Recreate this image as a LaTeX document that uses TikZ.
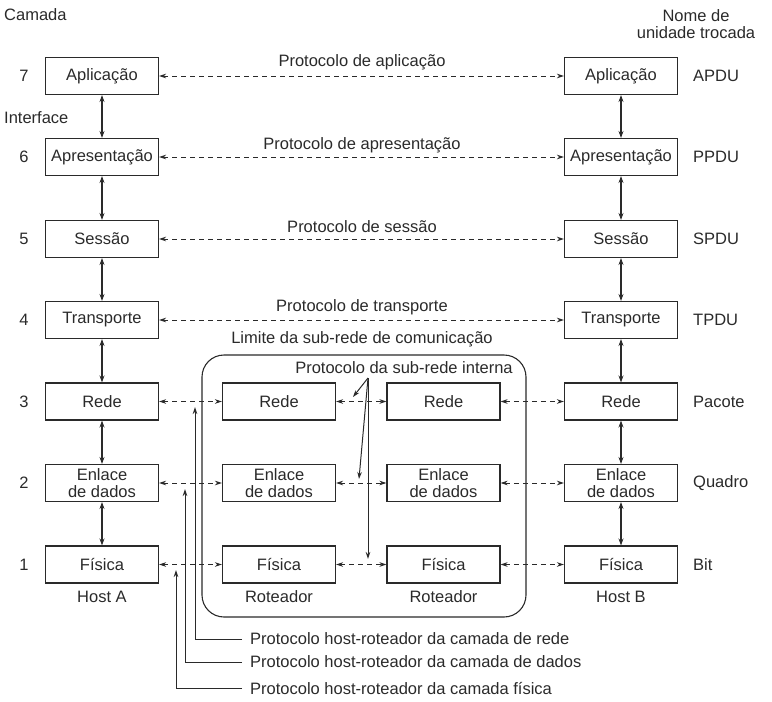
\documentclass[tikz,border=0pt]{standalone}
\usepackage{fontspec}
\setmainfont{Liberation Sans}
\usetikzlibrary{arrows.meta}
\definecolor{ink}{HTML}{2A2A2A}
\begin{document}
\begin{tikzpicture}[x=1pt,y=-1pt,
  every node/.style={font=\fontsize{16.5}{17}\selectfont, text=ink},
  layerbox/.style={draw=ink, line width=1.1pt, minimum width=113pt, minimum height=37pt, inner sep=0pt, align=center},
  lbl/.style={inner sep=0pt},
  vlink/.style={draw=ink, line width=1.1pt, {Stealth[length=7pt,width=5pt]}-{Stealth[length=7pt,width=5pt]}},
  proto/.style={draw=ink, line width=1pt, dash pattern=on 5pt off 4pt, {Stealth[length=7pt,width=4.5pt]}-{Stealth[length=7pt,width=4.5pt]}},
  ptr/.style={draw=ink, line width=1pt, -{Stealth[length=7pt,width=4.5pt]}}
]
\path[use as bounding box] (0,0) rectangle (772,702);

% subnet boundary
\draw[ink, line width=1.1pt, rounded corners=22pt] (202,355) rectangle (526,617);

% Host A
\node[layerbox] (a7) at (102,76) {Aplicação};
\node[layerbox] (a6) at (102,157) {Apresentação};
\node[layerbox] (a5) at (102,239) {Sessão};
\node[layerbox] (a4) at (102,320) {Transporte};
\node[layerbox] (a3) at (102,401.5) {Rede};
\node[layerbox] (a2) at (102,483) {Enlace\\de dados};
\node[layerbox] (a1) at (102,564.5) {Física};
% Host B
\node[layerbox] (b7) at (621,76) {Aplicação};
\node[layerbox] (b6) at (621,157) {Apresentação};
\node[layerbox] (b5) at (621,239) {Sessão};
\node[layerbox] (b4) at (621,320) {Transporte};
\node[layerbox] (b3) at (621,401.5) {Rede};
\node[layerbox] (b2) at (621,483) {Enlace\\de dados};
\node[layerbox] (b1) at (621,564.5) {Física};
% Routers
\node[layerbox] (r3) at (279,401.5) {Rede};
\node[layerbox] (r2) at (279,483) {Enlace\\de dados};
\node[layerbox] (r1) at (279,564.5) {Física};
\node[layerbox] (s3) at (443.5,401.5) {Rede};
\node[layerbox] (s2) at (443.5,483) {Enlace\\de dados};
\node[layerbox] (s1) at (443.5,564.5) {Física};

% interfaces
\foreach \u/\l in {7/6,6/5,5/4,4/3,3/2,2/1}{
  \draw[vlink] (a\u.south) -- (a\l.north);
  \draw[vlink] (b\u.south) -- (b\l.north);
}

% peer protocols
\foreach \n in {7,6,5,4}{ \draw[proto] (a\n.east) -- (b\n.west); }
\foreach \n in {3,2,1}{
  \draw[proto] (a\n.east) -- (r\n.west);
  \draw[proto] (r\n.east) -- (s\n.west);
  \draw[proto] (s\n.east) -- (b\n.west);
}
\node[lbl] (p7) at (362,62) {Protocolo de aplicação};
\node[lbl] (p6) at (362,145) {Protocolo de apresentação};
\node[lbl] (p5) at (362,227) {Protocolo de sessão};
\node[lbl] (p4) at (362,307) {Protocolo de transporte};
\node[lbl] (lim) at (362,339) {Limite da sub-rede de comunicação};

% internal subnet protocol
\node[lbl] (sub) at (404,368) {Protocolo da sub-rede interna};
\coordinate (src) at (368,378);
\coordinate (t1) at (353,397);
\coordinate (t2) at (359,479);
\coordinate (t3) at (368,559);
\draw[ptr] (src) -- (t1);
\draw[ptr] (src) -- (t2);
\draw[ptr] (src) -- (t3);

% host-router protocols
\node[lbl, anchor=west] (h3) at (250,639) {Protocolo host-roteador da camada de rede};
\node[lbl, anchor=west] (h2) at (250,662) {Protocolo host-roteador da camada de dados};
\node[lbl, anchor=west] (h1) at (250,688) {Protocolo host-roteador da camada física};
\coordinate (v3) at (195,407);
\coordinate (v2) at (185,489);
\coordinate (v1) at (176,570);
\draw[ptr] ([xshift=-8pt]h3.west) -| (v3);
\draw[ptr] ([xshift=-8pt]h2.west) -| (v2);
\draw[ptr] ([xshift=-8pt]h1.west) -| (v1);

% layer numbers
\foreach \n/\y in {7/76,6/157,5/239,4/320,3/401.5,2/483,1/564.5}{
  \node[lbl] (n\n) at (24,\y) {\n};
}
% unit names
\node[lbl, anchor=west] (u7) at (693,76) {APDU};
\node[lbl, anchor=west] (u6) at (693,157) {PPDU};
\node[lbl, anchor=west] (u5) at (693,239) {SPDU};
\node[lbl, anchor=west] (u4) at (693,320) {TPDU};
\node[lbl, anchor=west] (u3) at (693,401.5) {Pacote};
\node[lbl, anchor=west] (u2) at (693,483) {Quadro};
\node[lbl, anchor=west] (u1) at (693,564.5) {Bit};

% headers
\node[lbl, anchor=west] (cam) at (4,15) {Camada};
\node[lbl, anchor=west] (itf) at (4,118) {Interface};
\node[lbl, align=center] (nome) at (696,24) {Nome de\\unidade trocada};

% machine labels
\node[lbl] (ha) at (102,597) {Host A};
\node[lbl] (rt1) at (279,597) {Roteador};
\node[lbl] (rt2) at (443.5,597) {Roteador};
\node[lbl] (hb) at (621,597) {Host B};
\end{tikzpicture}
\end{document}
